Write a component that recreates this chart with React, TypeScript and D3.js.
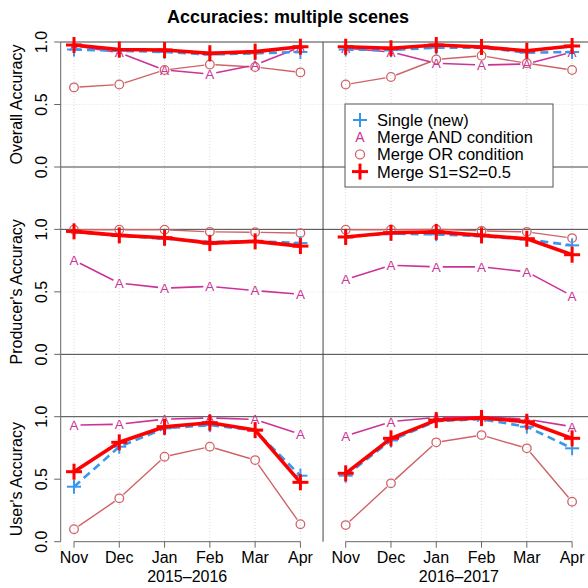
import React from 'react';
import * as d3 from 'd3';

const W = 588;
const H = 588;

const months = ["Nov", "Dec", "Jan", "Feb", "Mar", "Apr"];
const seasons = ["2015–2016", "2016–2017"];
const panelTitles = ["Overall Accuracy", "Producer's Accuracy", "User's Accuracy"];
const yTicks = [0, 0.5, 1];
const seriesNames = ["Single (new)", "Merge AND condition", "Merge OR condition", "Merge S1=S2=0.5"];

// each array: 2015-2016 Nov..Apr, then 2016-2017 Nov..Apr
const overallSingle = [0.94, 0.93, 0.92, 0.9, 0.91, 0.92, 0.94, 0.935, 0.955, 0.955, 0.915, 0.92];
const overallAnd = [0.97, 0.915, 0.776, 0.744, 0.816, 0.96, 0.95, 0.92, 0.83, 0.816, 0.824, 0.92];
const overallOr = [0.637, 0.66, 0.776, 0.82, 0.8, 0.757, 0.66, 0.72, 0.86, 0.89, 0.83, 0.776];
const overallMerge = [0.976, 0.94, 0.936, 0.91, 0.923, 0.962, 0.962, 0.95, 0.976, 0.96, 0.93, 0.968];

const producerSingle = [0.98, 0.95, 0.925, 0.9, 0.905, 0.89, 0.94, 0.965, 0.96, 0.945, 0.92, 0.872];
const producerAnd = [0.752, 0.57, 0.53, 0.544, 0.51, 0.48, 0.6, 0.712, 0.7, 0.7, 0.66, 0.467];
const producerOr = [0.997, 0.997, 0.997, 0.98, 0.977, 0.97, 0.997, 0.997, 1.0, 0.988, 0.98, 0.93];
const producerMerge = [0.984, 0.952, 0.933, 0.89, 0.904, 0.866, 0.939, 0.973, 0.98, 0.952, 0.925, 0.797];

const userSingle = [0.44, 0.76, 0.907, 0.933, 0.89, 0.528, 0.528, 0.81, 0.965, 0.98, 0.92, 0.747];
const userAnd = [0.933, 0.94, 0.98, 0.99, 0.978, 0.86, 0.845, 0.96, 0.995, 1.0, 0.98, 0.92];
const userOr = [0.1, 0.347, 0.68, 0.76, 0.653, 0.14, 0.133, 0.467, 0.795, 0.853, 0.747, 0.32];
const userMerge = [0.56, 0.795, 0.92, 0.952, 0.893, 0.475, 0.547, 0.827, 0.973, 0.99, 0.96, 0.827];

const panels = [
  [overallSingle, overallAnd, overallOr, overallMerge],
  [producerSingle, producerAnd, producerOr, producerMerge],
  [userSingle, userAnd, userOr, userMerge],
];

const BLUE = "#3a98ec";
const MAGENTA = "#cc3399";
const ROSE = "#cf6468";
const RED = "#ff0000";
const FONT = "'Liberation Sans', Arial, Helvetica, sans-serif";

const AXIS_X = 60.7;
const PANEL_TOP = 42;
const PANEL_H = 125;
const PANEL_STEP = 187.35;

const x = d3.scaleLinear().domain([1, 12]).range([74, 572.1]);
const yFor = (p: number) =>
  d3.scaleLinear().domain([0, 1]).range([PANEL_TOP + p * PANEL_STEP + PANEL_H, PANEL_TOP + p * PANEL_STEP]);

const Plus = ({ cx, cy, r, color, w }: any) => (
  <g stroke={color} strokeWidth={w}>
    <line x1={cx - r} x2={cx + r} y1={cy} y2={cy} />
    <line x1={cx} x2={cx} y1={cy - r} y2={cy + r} />
  </g>
);

// segments with gaps around the points (R type = "b")
const gapSegments = (pts: [number, number][], gap: number) => {
  const segs: string[] = [];
  for (let i = 0; i < pts.length - 1; i++) {
    const [x1, y1] = pts[i];
    const [x2, y2] = pts[i + 1];
    const len = Math.hypot(x2 - x1, y2 - y1);
    if (len <= 2 * gap) continue;
    const ux = (x2 - x1) / len;
    const uy = (y2 - y1) / len;
    segs.push(`M${x1 + ux * gap},${y1 + uy * gap}L${x2 - ux * gap},${y2 - uy * gap}`);
  }
  return segs.join("");
};

const Panel = ({ p }: { p: number }) => {
  const y = yFor(p);
  const [single, and, or, merge] = panels[p];
  const line = d3.line<[number, number]>();
  return (
    <g>
      {[0, 1].map((s) => {
        const idx = d3.range(s * 6, s * 6 + 6);
        const pts = (arr: number[]) => idx.map((i) => [x(i + 1), y(arr[i])] as [number, number]);
        const pOr = pts(or);
        const pAnd = pts(and);
        const pSingle = pts(single);
        const pMerge = pts(merge);
        return (
          <g key={s}>
            <path d={gapSegments(pOr, 5.5)} stroke={ROSE} strokeWidth={1.4} fill="none" />
            {pOr.map(([cx, cy], i) => (
              <circle key={i} cx={cx} cy={cy} r={4.3} fill="none" stroke={ROSE} strokeWidth={1.3} />
            ))}
            <path d={gapSegments(pAnd, 6.5)} stroke={MAGENTA} strokeWidth={1.6} fill="none" />
            {pAnd.map(([cx, cy], i) => (
              <text key={i} x={cx} y={cy + 4.8} textAnchor="middle" fontSize={13.5} fill={MAGENTA} fontFamily={FONT}>A</text>
            ))}
            <path d={line(pSingle) || ""} stroke={BLUE} strokeWidth={2.6} strokeDasharray="8,5" fill="none" />
            {pSingle.map(([cx, cy], i) => (
              <Plus key={i} cx={cx} cy={cy} r={7} color={BLUE} w={2} />
            ))}
            <path d={line(pMerge) || ""} stroke={RED} strokeWidth={3.6} fill="none" strokeLinejoin="round" />
            {pMerge.map(([cx, cy], i) => (
              <Plus key={i} cx={cx} cy={cy} r={8} color={RED} w={3} />
            ))}
          </g>
        );
      })}
    </g>
  );
};

export default function App() {
  const yBottom = yFor(2)(0);
  const legendRows = [0, 1, 2, 3];
  return (
    <div style={{ position: 'fixed', left: 0, top: 0 }}>
      <svg width={W} height={H} style={{ display: 'block', background: '#fff' }}>
        <text x={288} y={23} textAnchor="middle" fontFamily={FONT} fontWeight="bold" fontSize={18}>
          Accuracies: multiple scenes
        </text>

        {/* grid */}
        {d3.range(1, 13).map((i) => (
          <line key={i} x1={x(i)} x2={x(i)} y1={PANEL_TOP} y2={yBottom} stroke="#d8d8d8" strokeWidth={1} strokeDasharray="1,2" />
        ))}
        {[0, 1, 2].map((p) => (
          <line key={p} x1={AXIS_X} x2={W} y1={yFor(p)(0.5)} y2={yFor(p)(0.5)} stroke="#e2e2e2" strokeWidth={1} strokeDasharray="1,2" />
        ))}

        {/* reference lines */}
        {[0, 1, 2].map((p) =>
          (p < 2 ? [0, 1] : [1]).map((v) => (
            <line key={`${p}-${v}`} x1={AXIS_X} x2={W} y1={yFor(p)(v)} y2={yFor(p)(v)} stroke="#444" strokeWidth={1} />
          ))
        )}
        <line x1={x(6.5)} x2={x(6.5)} y1={PANEL_TOP} y2={yBottom} stroke="#444" strokeWidth={1} />

        {/* y axes */}
        <line x1={AXIS_X} x2={AXIS_X} y1={PANEL_TOP} y2={yBottom} stroke="#666" strokeWidth={1} />
        {[0, 1, 2].map((p) => {
          const y = yFor(p);
          return (
            <g key={p}>
              {yTicks.map((t) => (
                <g key={t}>
                  <line x1={AXIS_X - 6.5} x2={AXIS_X} y1={y(t)} y2={y(t)} stroke="#666" />
                  <text transform={`translate(46.5,${y(t)}) rotate(-90)`} textAnchor="middle" fontFamily={FONT} fontSize={16}>
                    {t.toFixed(1)}
                  </text>
                </g>
              ))}
              <text transform={`translate(22,${y(0.5)}) rotate(-90)`} textAnchor="middle" fontFamily={FONT} fontSize={16}>
                {panelTitles[p]}
              </text>
            </g>
          );
        })}

        {/* x axes */}
        {seasons.map((season, s) => (
          <g key={season}>
            <line x1={x(s * 6 + 1)} x2={x(s * 6 + 6)} y1={yBottom} y2={yBottom} stroke="#666" />
            {months.map((m, i) => (
              <g key={m}>
                <line x1={x(s * 6 + i + 1)} x2={x(s * 6 + i + 1)} y1={yBottom} y2={yBottom + 6} stroke="#666" />
                <text x={x(s * 6 + i + 1)} y={563} textAnchor="middle" fontFamily={FONT} fontSize={16}>{m}</text>
              </g>
            ))}
            <text x={x(s * 6 + 3.5)} y={581.5} textAnchor="middle" fontFamily={FONT} fontSize={16}>{season}</text>
          </g>
        ))}

        {[0, 1, 2].map((p) => <Panel key={p} p={p} />)}

        {/* legend */}
        <g>
          <rect x={345} y={104} width={208} height={83} fill="#fff" stroke="#555" strokeWidth={1} />
          {legendRows.map((r) => {
            const cy = 120 + r * 17.2;
            return (
              <g key={r}>
                {r === 0 && <Plus cx={360} cy={cy} r={7} color={BLUE} w={2} />}
                {r === 1 && (
                  <text x={360} y={cy + 5} textAnchor="middle" fontSize={14} fill={MAGENTA} fontFamily={FONT}>A</text>
                )}
                {r === 2 && <circle cx={360} cy={cy} r={4.5} fill="none" stroke={ROSE} strokeWidth={1.3} />}
                {r === 3 && <Plus cx={360} cy={cy} r={8} color={RED} w={3} />}
                <text x={377} y={cy + 6} fontFamily={FONT} fontSize={16.5}>{seriesNames[r]}</text>
              </g>
            );
          })}
        </g>
      </svg>
    </div>
  );
}
